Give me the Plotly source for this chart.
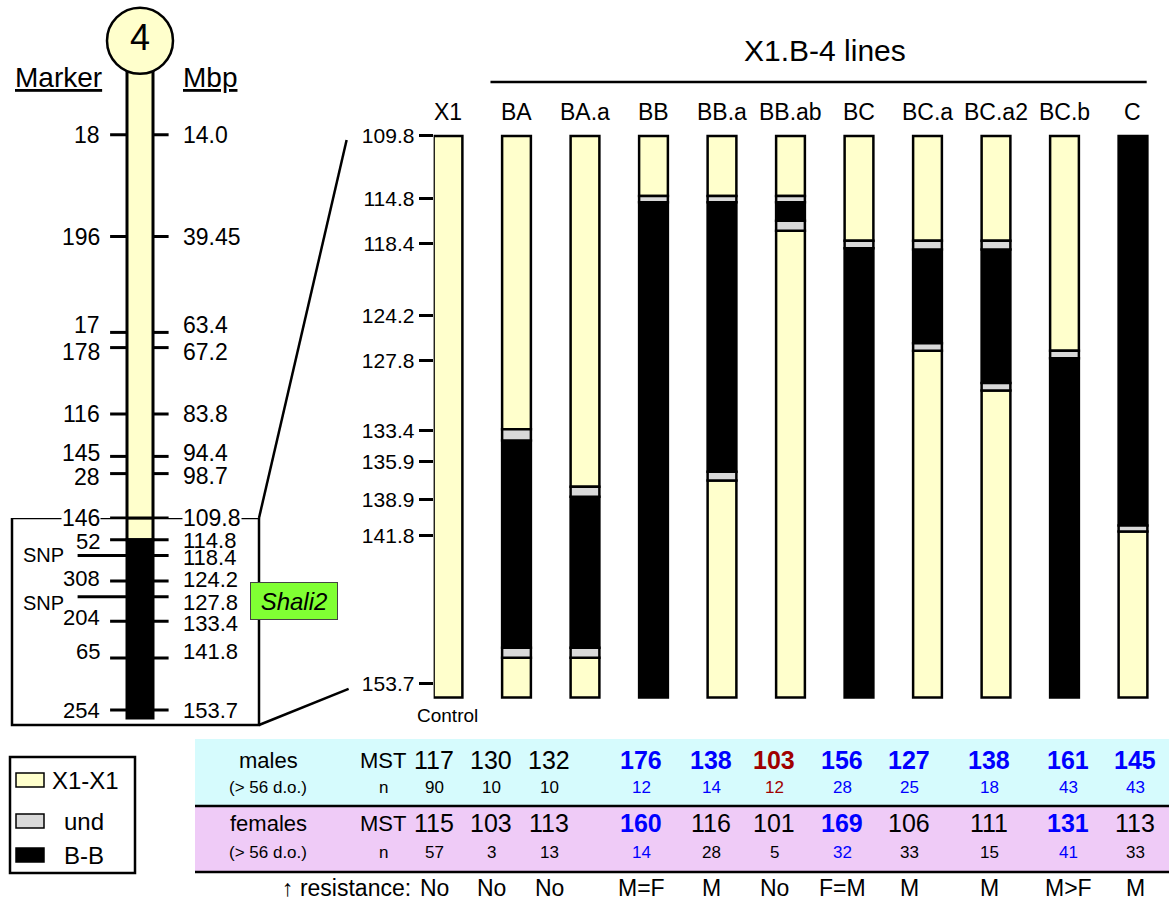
import plotly.graph_objects as go

W, H = 1169, 900
FONT = "Liberation Sans, Arial, Helvetica, sans-serif"
YEL, GRY, BLK = "#FFFFCC", "#D9D9D9", "#000000"
BLUE, RED = "#0000FF", "#A00000"
CYAN_BG, PINK_BG, GREEN = "#D6FBFD", "#EFCBF7", "#80FF33"

# ---------------- data ----------------
LINES = ["X1", "BA", "BA.a", "BB", "BB.a", "BB.ab", "BC", "BC.a", "BC.a2", "BC.b", "C"]

# genotype blocks of each line (Mbp breakpoints, top -> bottom) and block states
# X = X1-X1, U = undetermined, B = B-B
SEG_BREAKS = [
    [109.8, 154.8],
    [109.8, 133.3, 134.2, 150.8, 151.6, 154.8],
    [109.8, 137.9, 138.7, 150.8, 151.6, 154.8],
    [109.8, 114.6, 115.1, 154.8],
    [109.8, 114.6, 115.1, 136.7, 137.4, 154.8],
    [109.8, 114.6, 115.1, 116.6, 117.4, 154.8],
    [109.8, 118.2, 118.8, 154.8],
    [109.8, 118.2, 118.9, 126.4, 127.0, 154.8],
    [109.8, 118.2, 118.9, 129.6, 130.2, 154.8],
    [109.8, 127.0, 127.6, 154.8],
    [109.8, 141.0, 141.5, 154.8],
]
SEG_STATES = [
    ["X"],
    ["X", "U", "B", "U", "X"],
    ["X", "U", "B", "U", "X"],
    ["X", "U", "B"],
    ["X", "U", "B", "U", "X"],
    ["X", "U", "B", "U", "X"],
    ["X", "U", "B"],
    ["X", "U", "B", "U", "X"],
    ["X", "U", "B", "U", "X"],
    ["X", "U", "B"],
    ["B", "U", "X"],
]
STATE_NAMES = {"X": "X1-X1", "U": "und", "B": "B-B"}

RIGHT_TICKS = [109.8, 114.8, 118.4, 124.2, 127.8, 133.4, 135.9, 138.9, 141.8, 153.7]

CHR_MARKERS = ["18", "196", "17", "178", "116", "145", "28", "146",
               "52", "SNP", "308", "SNP", "204", "65", "254"]
CHR_MBP = [14.0, 39.45, 63.4, 67.2, 83.8, 94.4, 98.7, 109.8,
           114.8, 118.4, 124.2, 127.8, 133.4, 141.8, 153.7]
CHR_MBP_TEXT = ["14.0", "39.45", "63.4", "67.2", "83.8", "94.4", "98.7", "109.8",
                "114.8", "118.4", "124.2", "127.8", "133.4", "141.8", "153.7"]
ZOOM_START = 109.8     # start of the zoomed region
B_START = 114.8        # start of the B-B block on chromosome 4
CHR_END = 155.5
QTL_RANGE = [124.2, 133.4]

MALE_MST = [117, 130, 132, 176, 138, 103, 156, 127, 138, 161, 145]
MALE_N = [90, 10, 10, 12, 14, 12, 28, 25, 18, 43, 43]
FEMALE_MST = [115, 103, 113, 160, 116, 101, 169, 106, 111, 131, 113]
FEMALE_N = [57, 3, 13, 14, 28, 5, 32, 33, 15, 41, 33]
MALE_SIG = ["", "", "", "up", "up", "down", "up", "up", "up", "up", "up"]
FEMALE_SIG = ["", "", "", "up", "", "", "up", "", "", "up", ""]
RESISTANCE = ["No", "No", "No", "M=F", "M", "No", "F=M", "M", "M", "M>F", "M"]

# ---------------- layout geometry (pixels) ----------------
def PX(x):
    return x / W


def PY(y):
    return 1 - y / H


# right panel scales
R_X0, R_STEP = 448.0, 68.5          # px of first column, px per column
R_XR = [-0.21, 10.42]
R_PY0, R_K = 136.0, 12.48           # px of 109.8, px per Mbp
R_YR = [156.0, 108.5]

# table column centres (px) – the table is laid out independently of the bars
TABLE_COL_PX = [434, 491, 549, 641, 711, 774, 842, 909, 989, 1068, 1135]


def r_px(i):
    return R_X0 + i * R_STEP


def r_py(v):
    return R_PY0 + (v - 109.8) * R_K


# left chromosome scales
L_CX, L_UNIT = 140.0, 26.0          # chromosome centre px, px per x2 unit
L_XR = [(0 - L_CX) / L_UNIT, (345 - L_CX) / L_UNIT]
L2_PY0, L2_K = 518.0, 4.0           # top part
L2_YR = [109.8, -10.0]
L3_PY0, L3_K = 518.0, 4.374         # zoomed bottom part
L3_YR = [158.3, 109.8]


def l_px(x):
    return L_CX + x * L_UNIT


def l2_py(v):
    return L2_PY0 - (109.8 - v) * L2_K


def l3_py(v):
    return L3_PY0 + (v - 109.8) * L3_K


fig = go.Figure()

# ---------------- right panel: genotype bars ----------------
state_color = {"X": YEL, "U": GRY, "B": BLK}
for st in ["X", "B", "U"]:
    xs, bs, ls = [], [], []
    for i, (br, sts) in enumerate(zip(SEG_BREAKS, SEG_STATES)):
        for k, s in enumerate(sts):
            if s == st:
                xs.append(i)
                bs.append(br[k])
                ls.append(br[k + 1] - br[k])
    fig.add_trace(go.Bar(
        x=xs, y=ls, base=bs, width=0.42, name=STATE_NAMES[st],
        marker=dict(color=state_color[st], line=dict(color=BLK, width=2.5)),
        xaxis="x", yaxis="y", showlegend=False, hoverinfo="skip"))

# ---------------- left chromosome ----------------
fig.add_trace(go.Bar(
    x=[0], base=[-5.0], y=[ZOOM_START + 5.0], width=1.0,
    marker=dict(color=YEL, line=dict(color=BLK, width=3)),
    xaxis="x2", yaxis="y2", showlegend=False, hoverinfo="skip"))
fig.add_trace(go.Bar(
    x=[0, 0], base=[ZOOM_START, B_START],
    y=[B_START - ZOOM_START, CHR_END - B_START], width=1.0,
    marker=dict(color=[YEL, BLK], line=dict(color=BLK, width=3)),
    xaxis="x2", yaxis="y3", showlegend=False, hoverinfo="skip"))

# marker ticks
for axis, sel in [("y2", lambda v: v <= ZOOM_START), ("y3", lambda v: v > ZOOM_START)]:
    tx, ty = [], []
    for m, v in zip(CHR_MARKERS, CHR_MBP):
        if not sel(v):
            continue
        left0 = -2.4 if m == "SNP" else -1.15
        tx += [left0, -0.5, None, 0.5, 1.1, None]
        ty += [v, v, None, v, v, None]
    fig.add_trace(go.Scatter(
        x=tx, y=ty, mode="lines", line=dict(color=BLK, width=3),
        xaxis="x2", yaxis=axis, showlegend=False, hoverinfo="skip", cliponaxis=False))

# centromere circle with chromosome number
fig.add_trace(go.Scatter(
    x=[0], y=[-9.5], mode="markers+text", text=["4"],
    textfont=dict(size=36, family=FONT, color=BLK),
    marker=dict(size=66, color=YEL, line=dict(color=BLK, width=2.5)),
    xaxis="x2", yaxis="y2", showlegend=False, hoverinfo="skip", cliponaxis=False))

ann = []
shapes = []

# label nudges (px, positive = up) to place texts as in the original
NUDGE_MARKER = [0, 0, 7, -4, 0, 3, -3, 0, -2, 1, 2, -6, 4, 6, 0]
NUDGE_MBP = [0, 0, 7, -4, 0, 3, -2, 0, -1, -2, 1, -6, -2, 6, 0]
for m, v, t, nm, nb in zip(CHR_MARKERS, CHR_MBP, CHR_MBP_TEXT, NUDGE_MARKER, NUDGE_MBP):
    yref = "y2" if v <= ZOOM_START else "y3"
    mx = -2.88 if m == "SNP" else -1.5
    fsize = 23 if v <= ZOOM_START else 22
    msize = 20 if m == "SNP" else fsize
    on_box = (v == ZOOM_START)
    bg = "white" if on_box else "rgba(0,0,0,0)"
    ann.append(dict(x=mx, y=v, xref="x2", yref=yref, text=m, showarrow=False,
                    xanchor="right", yanchor="middle", yshift=nm,
                    font=dict(size=msize, color=BLK), bgcolor=bg, borderpad=0))
    ann.append(dict(x=1.6, y=v, xref="x2", yref=yref, text=t, showarrow=False,
                    xanchor="left", yanchor="middle", yshift=nb,
                    font=dict(size=fsize, color=BLK), bgcolor=bg, borderpad=0))

ann.append(dict(x=PX(58), y=PY(77), xref="paper", yref="paper", text="<u>Marker</u>",
                showarrow=False, font=dict(size=28, color=BLK)))
ann.append(dict(x=PX(210), y=PY(77), xref="paper", yref="paper", text="<u>Mbp</u>",
                showarrow=False, font=dict(size=28, color=BLK)))

# zoom box on chromosome
BOX_X = [(12 - L_CX) / L_UNIT, (259 - L_CX) / L_UNIT]
BOX_BOTTOM = ZOOM_START + (725 - L3_PY0) / L3_K
shapes.append(dict(type="rect", xref="x2", yref="y3", x0=BOX_X[0], x1=BOX_X[1],
                   y0=ZOOM_START, y1=BOX_BOTTOM, line=dict(color=BLK, width=2.5),
                   layer="above"))
# connectors to the zoomed panel
shapes.append(dict(type="line", xref="paper", yref="paper",
                   x0=PX(l_px(BOX_X[1])), y0=PY(l3_py(ZOOM_START)),
                   x1=PX(r_px(R_XR[0]) - 87), y1=PY(r_py(ZOOM_START) + 4),
                   line=dict(color=BLK, width=2.5)))
shapes.append(dict(type="line", xref="paper", yref="paper",
                   x0=PX(l_px(BOX_X[1])), y0=PY(l3_py(BOX_BOTTOM)),
                   x1=PX(r_px(R_XR[0]) - 85), y1=PY(r_py(RIGHT_TICKS[-1]) + 5),
                   line=dict(color=BLK, width=2.5)))

# QTL label
ann.append(dict(x=(294 - L_CX) / L_UNIT, y=sum(QTL_RANGE) / 2, xref="x2", yref="y3",
                text="<i>Shali2</i>", showarrow=False, font=dict(size=24, color=BLK),
                bgcolor=GREEN, bordercolor="#444444", borderwidth=1, borderpad=0,
                width=86, height=36))

# ---------------- right panel header ----------------
ann.append(dict(x=5.5, y=PY(50), xref="x", yref="paper", text="X1.B-4 lines",
                showarrow=False, font=dict(size=30, color=BLK)))
shapes.append(dict(type="line", xref="x", yref="paper", x0=0.62, x1=10.2,
                   y0=PY(82), y1=PY(82), line=dict(color=BLK, width=2.5)))
for i, name in enumerate(LINES):
    ann.append(dict(x=i, y=PY(112), xref="x", yref="paper", text=name,
                    showarrow=False, font=dict(size=23, color=BLK)))
ann.append(dict(x=0, y=PY(715), xref="x", yref="paper", text="Control",
                showarrow=False, font=dict(size=19, color=BLK)))

# ---------------- legend ----------------
shapes.append(dict(type="rect", xref="paper", yref="paper", x0=PX(10), x1=PX(135),
                   y0=PY(757), y1=PY(873), line=dict(color=BLK, width=2.5)))
for k, (st, yy, tx) in enumerate([("X", 780, 50), ("U", 821, 62), ("B", 855, 62)]):
    shapes.append(dict(type="rect", xref="paper", yref="paper", x0=PX(16), x1=PX(44),
                       y0=PY(yy - 7), y1=PY(yy + 7), fillcolor=state_color[st],
                       line=dict(color=BLK, width=1.5)))
    ann.append(dict(x=PX(tx), y=PY(yy), xref="paper", yref="paper",
                    text=STATE_NAMES[st], showarrow=False, xanchor="left",
                    font=dict(size=24, color=BLK)))

# ---------------- table ----------------
shapes.append(dict(type="rect", xref="paper", yref="paper", x0=PX(195), x1=1,
                   y0=PY(806), y1=PY(739), fillcolor=CYAN_BG, line=dict(width=0),
                   layer="below"))
shapes.append(dict(type="rect", xref="paper", yref="paper", x0=PX(195), x1=1,
                   y0=PY(872), y1=PY(806), fillcolor=PINK_BG, line=dict(width=0),
                   layer="below"))
for yy in (806, 872):
    shapes.append(dict(type="line", xref="paper", yref="paper", x0=PX(195), x1=1,
                       y0=PY(yy), y1=PY(yy), line=dict(color=BLK, width=2.5)))

ROW_Y = {"m_mst": 760, "m_n": 787, "f_mst": 823, "f_n": 852, "res": 888}
for lab, sub, r1, r2 in [("males", "(> 56 d.o.)", "m_mst", "m_n"),
                         ("females", "(> 56 d.o.)", "f_mst", "f_n")]:
    ann.append(dict(x=PX(268), y=PY(ROW_Y[r1]), xref="paper", yref="paper", text=lab,
                    showarrow=False, font=dict(size=22, color=BLK)))
    ann.append(dict(x=PX(268), y=PY(ROW_Y[r2]), xref="paper", yref="paper", text=sub,
                    showarrow=False, font=dict(size=17, color=BLK)))
    ann.append(dict(x=PX(383), y=PY(ROW_Y[r1]), xref="paper", yref="paper", text="MST",
                    showarrow=False, font=dict(size=22, color=BLK)))
    ann.append(dict(x=PX(383), y=PY(ROW_Y[r2]), xref="paper", yref="paper", text="n",
                    showarrow=False, font=dict(size=17, color=BLK)))
ann.append(dict(x=PX(413), y=PY(ROW_Y["res"]), xref="paper", yref="paper",
                text="\u2191 resistance:", showarrow=False, xanchor="right",
                font=dict(size=23, color=BLK)))


def sig_style(s):
    if s == "up":
        return BLUE, True
    if s == "down":
        return RED, True
    return BLK, False


for i in range(len(LINES)):
    cx = PX(TABLE_COL_PX[i])
    for mst, n, sig, r1, r2 in [(MALE_MST[i], MALE_N[i], MALE_SIG[i], "m_mst", "m_n"),
                                (FEMALE_MST[i], FEMALE_N[i], FEMALE_SIG[i], "f_mst", "f_n")]:
        col, bold = sig_style(sig)
        txt = f"<b>{mst}</b>" if bold else f"{mst}"
        ann.append(dict(x=cx, y=PY(ROW_Y[r1]), xref="paper", yref="paper", text=txt,
                        showarrow=False, font=dict(size=25, color=col)))
        ann.append(dict(x=cx, y=PY(ROW_Y[r2]), xref="paper", yref="paper", text=str(n),
                        showarrow=False, font=dict(size=17, color=col)))
    ann.append(dict(x=cx, y=PY(ROW_Y["res"]), xref="paper", yref="paper",
                    text=RESISTANCE[i], showarrow=False, font=dict(size=23, color=BLK)))

# explicit anchors everywhere (paper 'auto' anchoring would shift texts)
for a in ann:
    a.setdefault("xanchor", "center")
    a.setdefault("yanchor", "middle")

fig.update_layout(
    width=W, height=H, margin=dict(l=0, r=0, t=0, b=0),
    paper_bgcolor="white", plot_bgcolor="rgba(0,0,0,0)",
    font=dict(family=FONT, color=BLK),
    barmode="overlay", showlegend=False,
    xaxis=dict(domain=[PX(r_px(R_XR[0])), PX(r_px(R_XR[1]))], range=R_XR,
               showticklabels=False, ticks="", showgrid=False, zeroline=False,
               showline=False, anchor="y"),
    yaxis=dict(domain=[PY(r_py(R_YR[0])), PY(r_py(R_YR[1]))], range=R_YR,
               tickmode="array", tickvals=RIGHT_TICKS,
               ticktext=[f"{v:.1f}" for v in RIGHT_TICKS], ticks="outside",
               ticklen=14, tickwidth=3, tickcolor=BLK, showgrid=False,
               zeroline=False, showline=False, tickfont=dict(size=21, color=BLK),
               anchor="x"),
    xaxis2=dict(domain=[0, PX(345)], range=L_XR, visible=False, anchor="y2"),
    yaxis2=dict(domain=[PY(l2_py(L2_YR[0])), PY(l2_py(L2_YR[1]))], range=L2_YR,
                visible=False, anchor="x2"),
    yaxis3=dict(domain=[PY(l3_py(L3_YR[0])), PY(l3_py(L3_YR[1]))], range=L3_YR,
                visible=False, anchor="x2"),
    annotations=ann, shapes=shapes,
)

fig.write_html("out.html", config={"displayModeBar": False},
               post_script="document.body.style.margin='0px';")
